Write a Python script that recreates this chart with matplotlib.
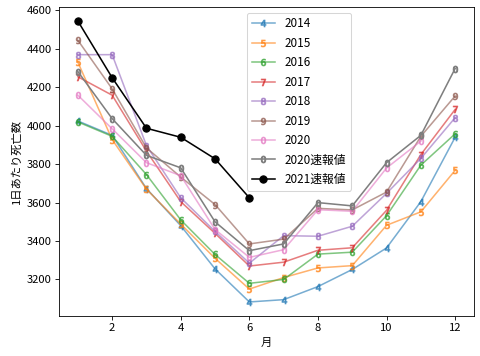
import matplotlib
matplotlib.use("Agg")
import matplotlib.pyplot as plt

plt.rcParams['font.family'] = ['Noto Sans CJK JP', 'DejaVu Sans']
plt.rcParams['font.size'] = 10.8

months = list(range(1, 13))

# monthly average deaths per day
deaths_2014 = [4025, 3950, 3673, 3480, 3255, 3083, 3095, 3163, 3252, 3364, 3605, 3940]
deaths_2015 = [4331, 3928, 3670, 3488, 3310, 3150, 3210, 3260, 3272, 3482, 3552, 3768]
deaths_2016 = [4020, 3945, 3746, 3510, 3330, 3180, 3200, 3332, 3342, 3532, 3795, 3958]
deaths_2017 = [4255, 4159, 3868, 3605, 3440, 3270, 3290, 3352, 3365, 3560, 3850, 4085]
deaths_2018 = [4370, 4370, 3897, 3625, 3450, 3285, 3428, 3425, 3477, 3648, 3830, 4042]
deaths_2019 = [4445, 4192, 3885, 3733, 3590, 3385, 3410, 3570, 3562, 3655, 3945, 4155]
deaths_2020 = [4159, 3984, 3808, 3740, 3460, 3315, 3355, 3563, 3555, 3780, 3920]
prelim_2020 = [4282, 4037, 3846, 3781, 3500, 3350, 3385, 3600, 3583, 3808, 3950, 4298]
prelim_2021 = [4545, 4250, 3987, 3940, 3828, 3625]

years = ['2014', '2015', '2016', '2017', '2018', '2019', '2020']
series = [deaths_2014, deaths_2015, deaths_2016, deaths_2017,
          deaths_2018, deaths_2019, deaths_2020]

fig = plt.figure(figsize=(6.4, 356 / 75), dpi=75)
ax = fig.add_axes([59 / 480, 40 / 356, 415 / 480, 309 / 356])

for year, values in zip(years, series):
    ax.plot(months[:len(values)], values, marker='$' + year[-1] + '$',
            markersize=6.5, alpha=0.6, label=year)

ax.plot(months, prelim_2020, marker='$0$', markersize=6.5, color='tab:gray',
        label='2020速報値')
ax.plot(months[:len(prelim_2021)], prelim_2021, marker='o', markersize=7,
        color='black', label='2021速報値')

ax.set_xlabel('月')
ax.set_ylabel('1日あたり死亡数')
ax.legend(loc='upper left', bbox_to_anchor=(0.453, 0.982), borderaxespad=0,
          fontsize=11.3, labelspacing=0.55)

fig.savefig('out.png', dpi=75)
